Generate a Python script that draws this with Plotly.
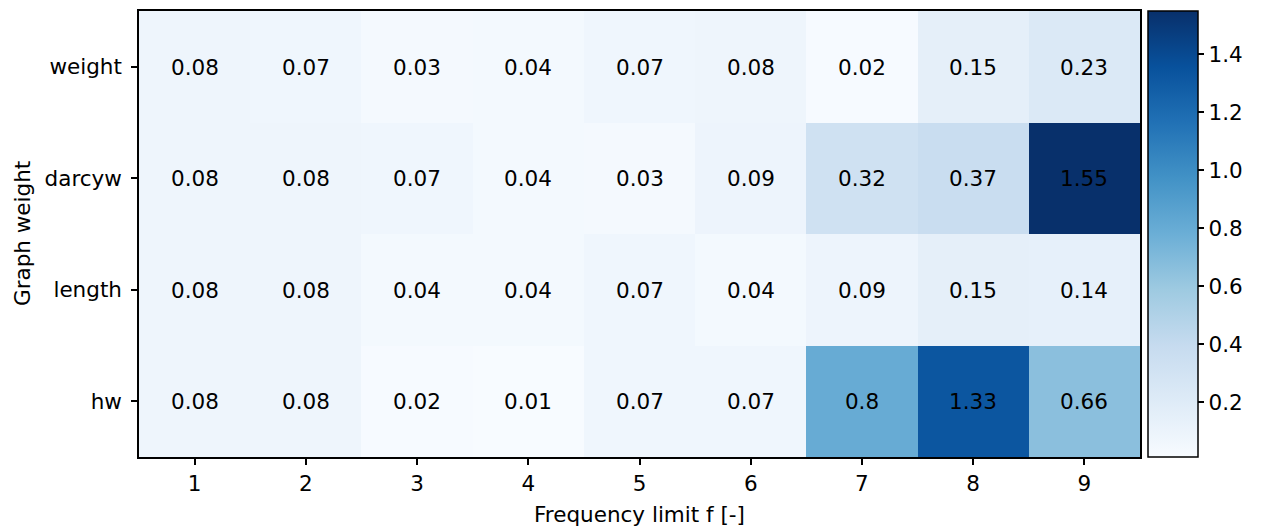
import plotly.graph_objects as go

freq_limits = [1, 2, 3, 4, 5, 6, 7, 8, 9]
graph_weights = ["hw", "length", "darcyw", "weight"]  # bottom to top

vals_weight = [0.08, 0.07, 0.03, 0.04, 0.07, 0.08, 0.02, 0.15, 0.23]
vals_darcyw = [0.08, 0.08, 0.07, 0.04, 0.03, 0.09, 0.32, 0.37, 1.55]
vals_length = [0.08, 0.08, 0.04, 0.04, 0.07, 0.04, 0.09, 0.15, 0.14]
vals_hw = [0.08, 0.08, 0.02, 0.01, 0.07, 0.07, 0.8, 1.33, 0.66]

z = [vals_hw, vals_length, vals_darcyw, vals_weight]
text = [[f"{v:g}" for v in row] for row in z]

blues = ["#f7fbff", "#deebf7", "#c6dbef", "#9ecae1", "#6baed6",
         "#4292c6", "#2171b5", "#08519c", "#08306b"]
colorscale = [[i / (len(blues) - 1), c] for i, c in enumerate(blues)]

FONT = "DejaVu Sans"
FS = 21.5

L, R, T, B = 139, 1140, 11, 457
W, H = 1261, 527
plot_w = R - L
plot_h = B - T

fig = go.Figure(go.Heatmap(
    x=freq_limits, y=graph_weights, z=z,
    text=text, texttemplate="%{text}",
    textfont=dict(family=FONT, size=FS, color="black"),
    colorscale=colorscale, zmin=0.01, zmax=1.55,
    xgap=0, ygap=0,
    colorbar=dict(
        x=(1148 - L) / plot_w, xanchor="left", xpad=0,
        y=0.5, yanchor="middle", len=1, lenmode="fraction", ypad=0,
        thickness=50, thicknessmode="pixels",
        outlinewidth=1.5, outlinecolor="black",
        tickvals=[0.2, 0.4, 0.6, 0.8, 1.0, 1.2, 1.4],
        ticktext=["0.2", "0.4", "0.6", "0.8", "1.0", "1.2", "1.4"],
        ticks="outside", ticklen=6, tickwidth=1.5, tickcolor="black",
        tickfont=dict(family=FONT, size=FS, color="black"),
    ),
))

fig.update_layout(
    width=W, height=H,
    margin=dict(l=L, r=W - R, t=T, b=H - B, pad=0, autoexpand=False),
    paper_bgcolor="white", plot_bgcolor="white",
    font=dict(family=FONT, size=FS, color="black"),
    xaxis=dict(
        tickmode="array", tickvals=freq_limits,
        ticktext=[str(v) for v in freq_limits],
        ticks="outside", ticklen=6, tickwidth=1.5, tickcolor="black",
        showline=True, linecolor="black", linewidth=1.5, mirror=True,
        showgrid=False, zeroline=False, automargin=False,
        tickfont=dict(family=FONT, size=FS),
    ),
    yaxis=dict(
        type="category",
        ticks="outside", ticklen=6, tickwidth=1.5, tickcolor="black",
        ticklabelstandoff=5,
        showline=True, linecolor="black", linewidth=1.5, mirror=True,
        showgrid=False, zeroline=False, automargin=False,
        tickfont=dict(family=FONT, size=FS),
    ),
    annotations=[
        dict(text="Frequency limit f [-]", xref="paper", yref="paper",
             x=0.5, y=(B - 514) / plot_h, xanchor="center", yanchor="middle",
             showarrow=False, font=dict(family=FONT, size=FS)),
        dict(text="Graph weight", xref="paper", yref="paper",
             x=(22 - L) / plot_w, y=0.5, xanchor="center", yanchor="middle",
             textangle=-90, showarrow=False, font=dict(family=FONT, size=FS)),
    ],
)

fig.write_html("out.html")
